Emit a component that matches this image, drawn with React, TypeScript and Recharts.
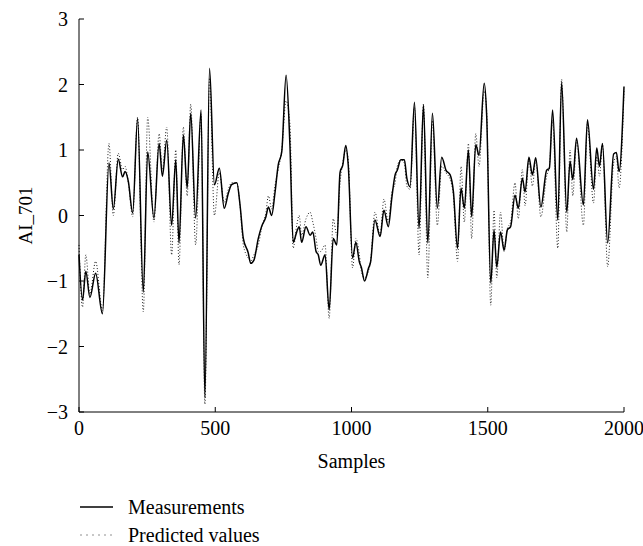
import React from 'react';
import { LineChart, Line, XAxis, YAxis } from 'recharts';

const samples = [
  0, 13, 25, 40, 61, 86, 110, 126, 144, 160,
  169, 181, 197, 215, 236, 252, 275, 294, 306, 322,
  340, 355, 367, 383, 397, 410, 428, 448, 462, 479,
  497, 515, 533, 548, 560, 579, 591, 603, 621, 630,
  642, 658, 670, 686, 695, 707, 719, 731, 744, 760,
  774, 786, 799, 808, 817, 833, 848, 858, 870, 878,
  887, 903, 918, 933, 946, 958, 968, 979, 988, 1004,
  1016, 1029, 1036, 1048, 1062, 1070, 1086, 1105, 1119, 1135,
  1148, 1160, 1168, 1181, 1194, 1203, 1215, 1231, 1248, 1264,
  1280, 1297, 1315, 1331, 1347, 1362, 1374, 1389, 1402, 1414,
  1429, 1441, 1456, 1468, 1487, 1496, 1511, 1523, 1533, 1547,
  1560, 1572, 1584, 1600, 1612, 1627, 1637, 1651, 1664, 1676,
  1695, 1716, 1726, 1738, 1757, 1771, 1790, 1802, 1812, 1826,
  1851, 1866, 1888, 1900, 1910, 1921, 1940, 1962, 1972, 1982,
  2000,
];

const measurements = [
  -0.6, -1.29, -0.85, -1.25, -0.88, -1.5, 0.8, 0.1, 0.86, 0.59,
  0.67, 0.52, 0.04, 1.48, -1.17, 0.97, -0.04, 1.1, 0.6, 1.15,
  -0.15, 0.85, -0.42, 1.23, 0.42, 1.56, -0.04, 1.61, -2.78, 2.25,
  0.47, 0.72, 0.11, 0.34, 0.47, 0.5, 0.16, -0.35, -0.57, -0.73,
  -0.68, -0.35, -0.17, -0.02, 0.13, 0.0, 0.34, 0.77, 0.97, 2.14,
  1.08, -0.41, -0.25, -0.17, -0.41, -0.17, -0.3, -0.25, -0.55, -0.6,
  -0.76, -0.6, -1.44, -0.35, -0.45, 0.66, 0.77, 1.07, 0.77, -0.65,
  -0.41, -0.71, -0.79, -1.0, -0.81, -0.71, -0.07, -0.32, 0.08, -0.17,
  0.27, 0.62, 0.69, 0.85, 0.85, 0.57, 0.44, 1.73, -0.2, 1.69,
  -0.42, 1.56, 0.11, 0.89, 0.69, 0.62, 0.36, -0.5, 0.42, 0.11,
  1.0, -0.02, 1.08, 0.92, 2.02, 1.53, -1.03, -0.22, -0.79, -0.25,
  -0.53, -0.22, -0.17, 0.31, 0.11, 0.57, 0.36, 0.89, 0.62, 0.88,
  0.13, 0.69, 0.72, 1.61, -0.07, 2.03, 0.05, 0.83, 0.55, 1.18,
  0.16, 1.46, 0.4, 1.03, 0.75, 1.1, -0.42, 0.94, 0.96, 0.67,
  1.97,
];

const predicted = [
  -0.45, -1.4, -0.6, -1.2, -0.7, -1.45, 1.1, 0.0, 0.95, 0.7,
  0.75, 0.5, -0.02, 1.5, -1.47, 1.5, -0.1, 1.25, 0.7, 1.35,
  -0.6, 1.0, -0.75, 1.35, 0.3, 1.7, -0.45, 1.55, -2.88, 2.1,
  0.0, 0.65, 0.2, 0.4, 0.5, 0.5, 0.15, -0.45, -0.65, -0.7,
  -0.6, -0.45, -0.2, 0.05, 0.3, 0.1, 0.45, 0.7, 1.0, 1.75,
  1.4, -0.5, -0.15, 0.0, -0.3, -0.05, 0.05, -0.1, -0.35, -0.55,
  -0.55, -0.45, -1.57, -0.05, -0.3, 0.5, 0.8, 1.0, 0.85, -0.8,
  -0.35, -0.6, -0.85, -0.95, -0.85, -0.7, 0.05, -0.3, 0.25, -0.1,
  0.35, 0.5, 0.75, 0.85, 0.8, 0.45, 0.4, 1.65, -0.6, 1.7,
  -0.95, 1.45, -0.15, 0.75, 0.65, 0.55, 0.3, -0.7, 0.75, -0.1,
  1.1, -0.35, 1.25, 0.75, 1.9, 1.6, -1.37, 0.08, -0.95, 0.05,
  -0.55, -0.2, -0.1, 0.5, -0.05, 0.7, 0.15, 0.85, 0.45, 0.85,
  -0.02, 0.6, 0.75, 1.45, -0.5, 2.08, -0.25, 1.0, 0.3, 1.15,
  -0.15, 1.4, 0.19, 0.9, 0.6, 1.1, -0.78, 0.8, 0.9, 0.42,
  1.9,
];

const xTicks = [0, 500, 1000, 1500, 2000];
const yTicks = [-3, -2, -1, 0, 1, 2, 3];
const xLabel = 'Samples';
const yLabel = 'AI_701';
const seriesNames = ['Measurements', 'Predicted values'];

const data = samples.map((s, i) => ({ s, m: measurements[i], p: predicted[i] }));

const FONT = '"Liberation Serif", "DejaVu Serif", serif';
const fmtY = (v: number) => (v < 0 ? `\u2212${Math.abs(v)}` : `${v}`);

export default function App() {
  return (
    <div style={{ position: 'absolute', left: 0, top: 0, width: 643, height: 546, background: '#fff' }}>
      <LineChart width={643} height={546} data={data} margin={{ top: 19, right: 19, left: 0, bottom: 0 }}>
        <XAxis
          xAxisId="b"
          dataKey="s"
          type="number"
          domain={[0, 2000]}
          ticks={xTicks}
          interval={0}
          tickSize={-5}
          tickMargin={14}
          height={134}
          stroke="#000"
          tick={{ fill: '#000', fontSize: 20, fontFamily: FONT }}
          label={{ value: xLabel, position: 'insideTop', offset: 42, fill: '#000', fontSize: 20, fontFamily: FONT }}
        />
        <XAxis
          xAxisId="t"
          orientation="top"
          dataKey="s"
          type="number"
          domain={[0, 2000]}
          ticks={xTicks}
          interval={0}
          tickSize={-5}
          height={0}
          tick={false}
          stroke="#000"
        />
        <YAxis
          yAxisId="l"
          type="number"
          domain={[-3, 3]}
          ticks={yTicks}
          interval={0}
          tickSize={-5}
          tickMargin={16}
          width={79}
          stroke="#000"
          tickFormatter={fmtY}
          tick={{ fill: '#000', fontSize: 20, fontFamily: FONT }}
          label={{ value: yLabel, angle: -90, position: 'insideLeft', offset: 25, fill: '#000', fontSize: 19, fontFamily: FONT, style: { textAnchor: 'middle' } }}
        />
        <YAxis
          yAxisId="r"
          orientation="right"
          type="number"
          domain={[-3, 3]}
          ticks={yTicks}
          interval={0}
          tickSize={-5}
          width={0}
          tick={false}
          stroke="#000"
        />
        <Line
          xAxisId="b"
          yAxisId="l"
          dataKey="p"
          name={seriesNames[1]}
          type="monotone"
          stroke="#222"
          strokeWidth={1}
          strokeDasharray="1 2"
          dot={false}
          isAnimationActive={false}
        />
        <Line
          xAxisId="b"
          yAxisId="l"
          dataKey="m"
          name={seriesNames[0]}
          type="monotone"
          stroke="#000"
          strokeWidth={1.5}
          dot={false}
          isAnimationActive={false}
        />
      </LineChart>
      <div style={{ position: 'absolute', left: 80, top: 493, fontFamily: FONT, fontSize: 20, color: '#000', lineHeight: '28px' }}>
        <div style={{ display: 'flex', alignItems: 'center', height: 28 }}>
          <svg width={33} height={4} style={{ marginRight: 15 }}>
            <line x1={0} y1={2} x2={33} y2={2} stroke="#000" strokeWidth={1.5} />
          </svg>
          <span>{seriesNames[0]}</span>
        </div>
        <div style={{ display: 'flex', alignItems: 'center', height: 28 }}>
          <svg width={33} height={4} style={{ marginRight: 15 }}>
            <line x1={0.5} y1={2} x2={33} y2={2} stroke="#222" strokeWidth={1} strokeDasharray="1 5" />
          </svg>
          <span>{seriesNames[1]}</span>
        </div>
      </div>
    </div>
  );
}
